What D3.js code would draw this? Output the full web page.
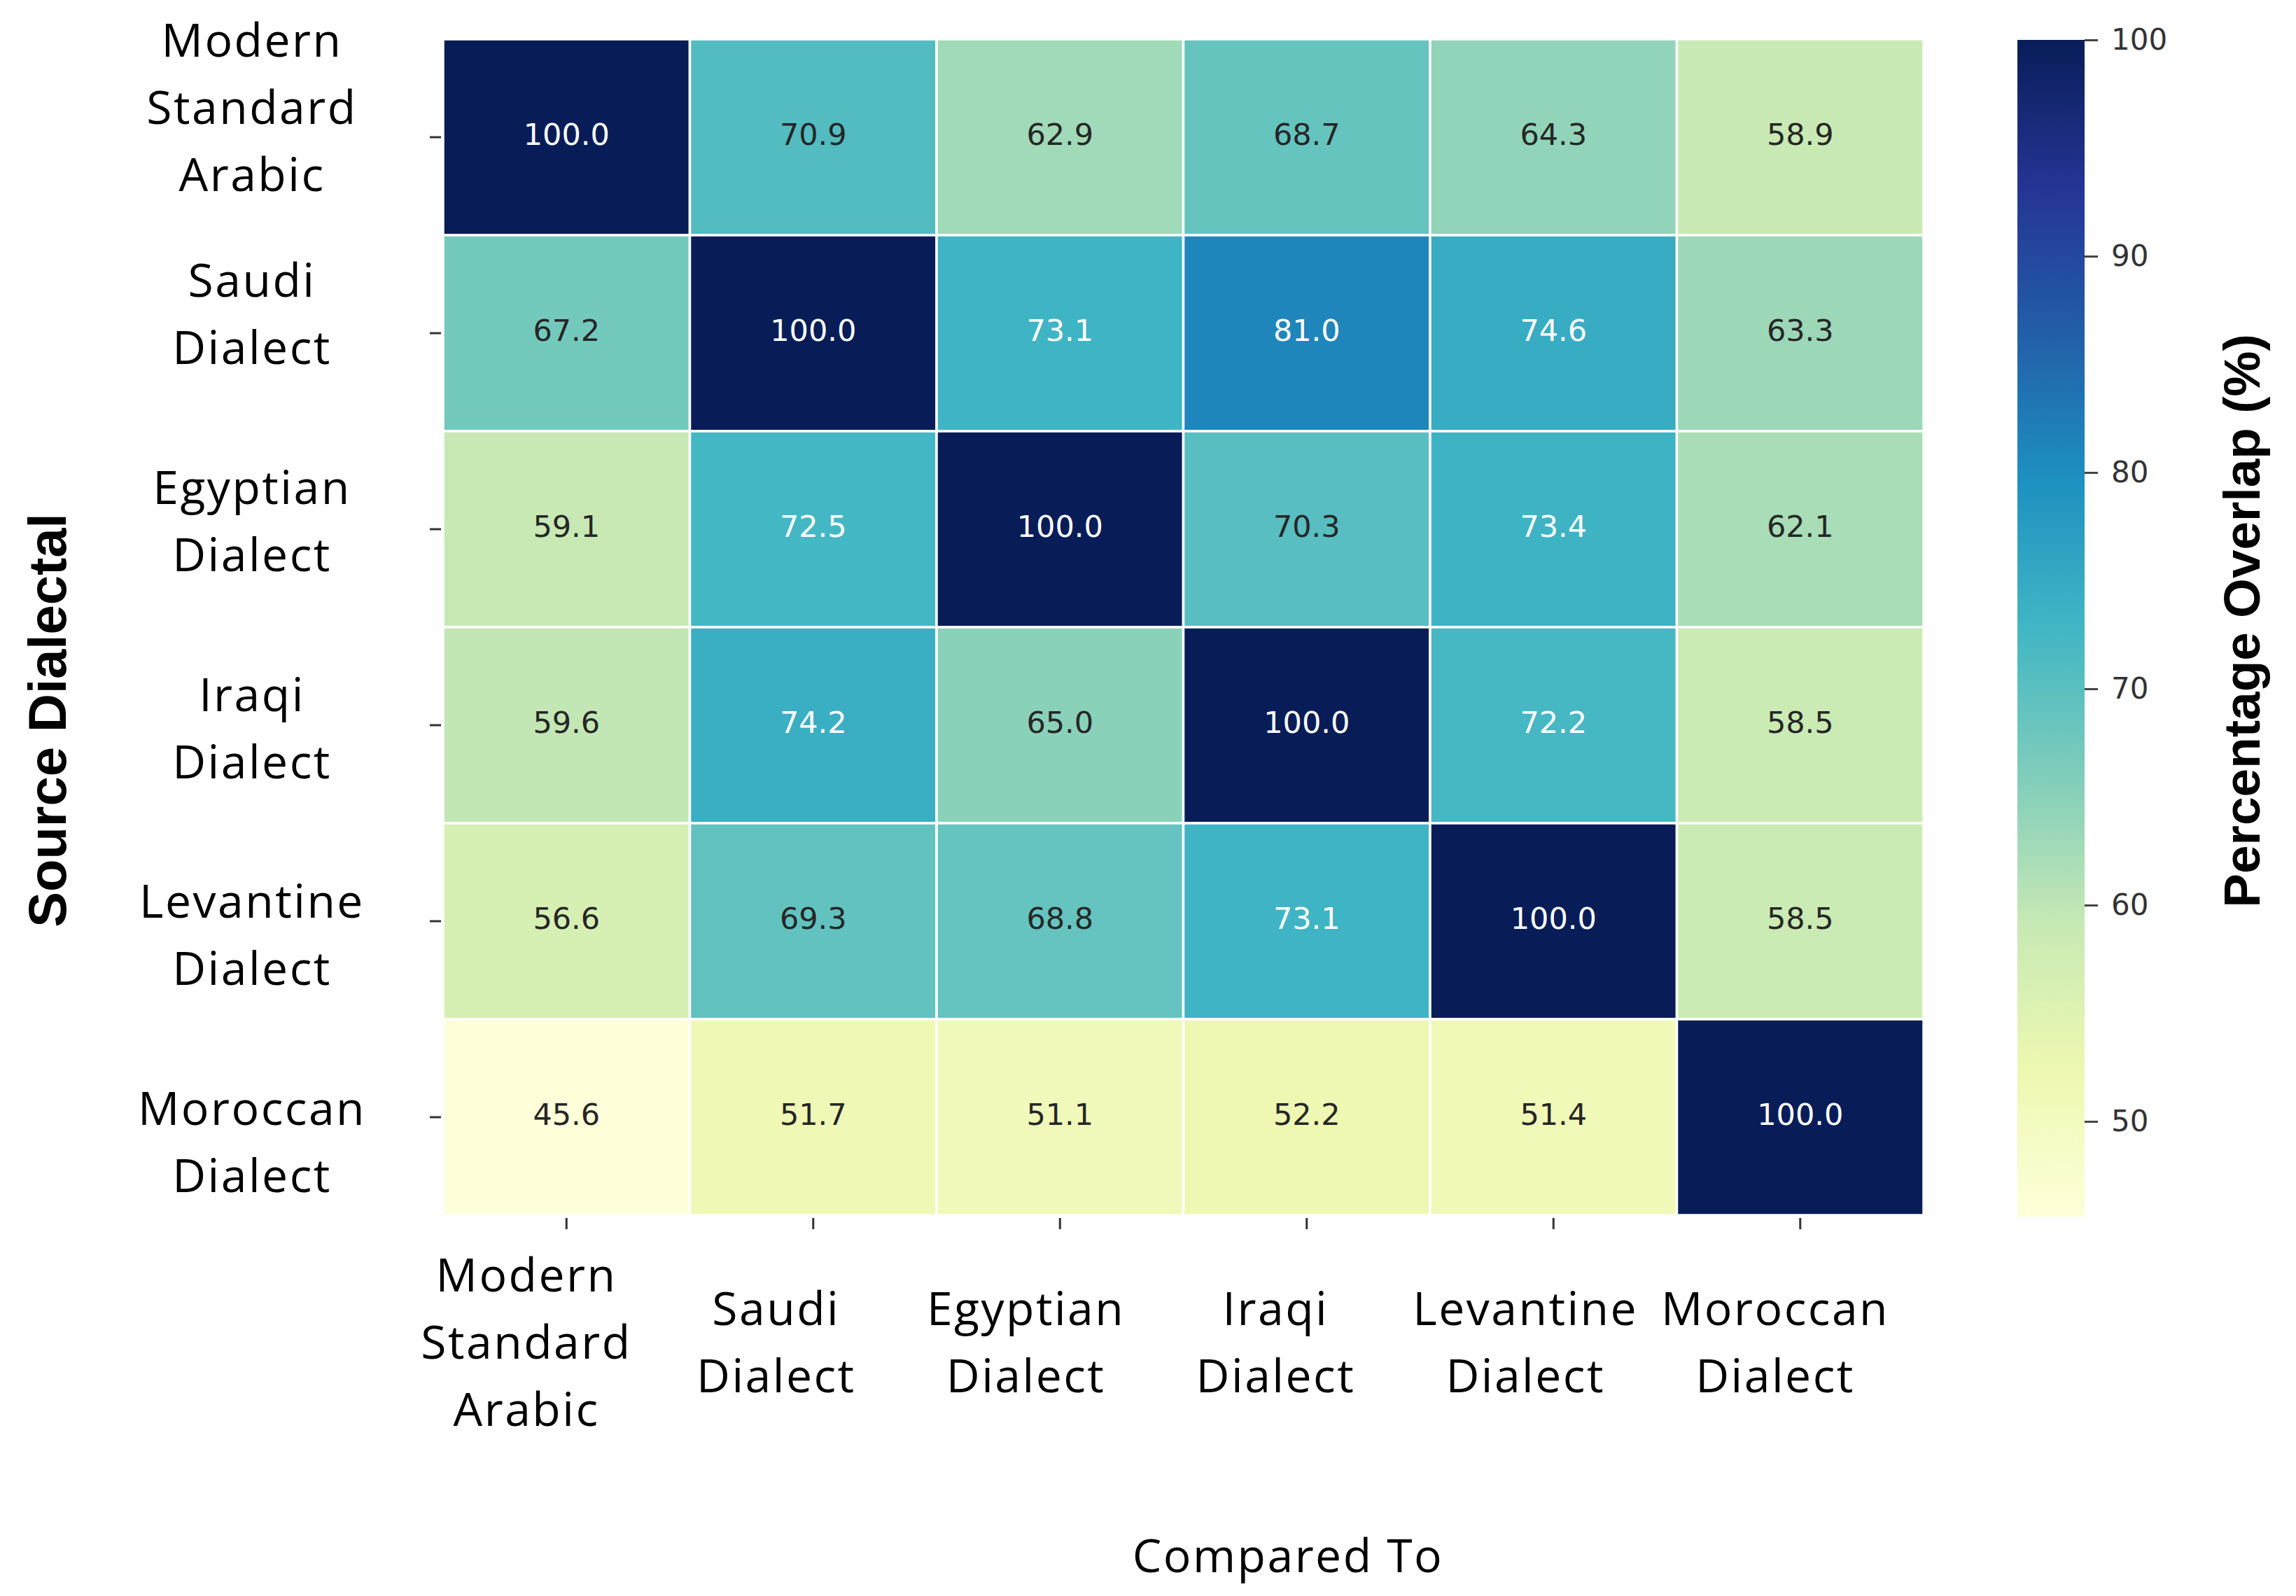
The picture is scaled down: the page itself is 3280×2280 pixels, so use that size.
<!DOCTYPE html>
<html>
<head>
<meta charset="utf-8">
<script src="https://cdn.jsdelivr.net/npm/d3@7"></script>
<style>
  body { margin: 0; background: #fff; }
  svg { display: block; }
</style>
</head>
<body>
<div class="container"></div>
<script>
// dialects, in row / column order
var dialects = ['Modern Standard Arabic', 'Saudi Dialect', 'Egyptian Dialect',
                'Iraqi Dialect', 'Levantine Dialect', 'Moroccan Dialect'];

// overlap %, rows = source dialect, columns = compared to
var overlap = [
    [100.0, 70.9, 62.9, 68.7, 64.3, 58.9],
    [67.2, 100.0, 73.1, 81.0, 74.6, 63.3],
    [59.1, 72.5, 100.0, 70.3, 73.4, 62.1],
    [59.6, 74.2, 65.0, 100.0, 72.2, 58.5],
    [56.6, 69.3, 68.8, 73.1, 100.0, 58.5],
    [45.6, 51.7, 51.1, 52.2, 51.4, 100.0]
];

var colorbarTicks = [50, 60, 70, 80, 90, 100];

// YlGnBu colorbrewer stops
var ylgnbu = ['#ffffd9', '#edf8b1', '#c7e9b4', '#7fcdbb', '#41b6c4',
              '#1d91c0', '#225ea8', '#253494', '#081d58'];

var width = 3280, height = 2280;
var labelFont = '"Open Sans", "Noto Sans", sans-serif';

var svg = d3.select('.container').append('svg')
    .attr('width', width).attr('height', height);

var flat = d3.merge(overlap);
var vmin = d3.min(flat), vmax = d3.max(flat);

var x = d3.scaleBand().domain(dialects).range([633, 2748]);
var y = d3.scaleBand().domain(dialects).range([56, 1736]);
// tick labels sit slightly off the ticks in the original
var xLab = d3.scalePoint().domain(dialects).range([752, 2536]);
var yLab = d3.scalePoint().domain(dialects).range([153.5, 1632]);

var color = d3.scaleLinear()
    .domain(ylgnbu.map(function (c, i) { return vmin + i * (vmax - vmin) / (ylgnbu.length - 1); }))
    .range(ylgnbu)
    .interpolate(d3.interpolateRgb);

function luminance(c) {
    var rgb = d3.rgb(c);
    var ch = [rgb.r, rgb.g, rgb.b].map(function (v) {
        v = v / 255;
        return v <= 0.03928 ? v / 12.92 : Math.pow((v + 0.055) / 1.055, 2.4);
    });
    return 0.2126 * ch[0] + 0.7152 * ch[1] + 0.0722 * ch[2];
}

var cells = [];
overlap.forEach(function (row, i) {
    row.forEach(function (v, j) {
        cells.push({ row: dialects[i], col: dialects[j], value: v });
    });
});

// heatmap cells
svg.append('g').selectAll('rect')
    .data(cells)
    .enter()
    .append('rect')
    .attr('x', function (d) { return x(d.col); })
    .attr('y', function (d) { return y(d.row); })
    .attr('width', x.bandwidth())
    .attr('height', y.bandwidth())
    .attr('fill', function (d) { return color(d.value); })
    .attr('stroke', '#fff')
    .attr('stroke-width', 3.5);

// annotations
svg.append('g').selectAll('text')
    .data(cells)
    .enter()
    .append('text')
    .attr('x', function (d) { return x(d.col) + x.bandwidth() / 2; })
    .attr('y', function (d) { return y(d.row) + y.bandwidth() / 2; })
    .attr('dy', '0.25em')
    .attr('text-anchor', 'middle')
    .style('font-family', '"DejaVu Sans", sans-serif')
    .style('font-size', '43px')
    .attr('fill', function (d) { return luminance(color(d.value)) > 0.408 ? '#262626' : '#ffffff'; })
    .text(function (d) { return d.value.toFixed(1); });

// tick marks
svg.append('g').selectAll('line')
    .data(dialects)
    .enter()
    .append('line')
    .attr('x1', 614).attr('x2', 630)
    .attr('y1', function (d) { return y(d) + y.bandwidth() / 2; })
    .attr('y2', function (d) { return y(d) + y.bandwidth() / 2; })
    .attr('stroke', '#333').attr('stroke-width', 3);

svg.append('g').selectAll('line')
    .data(dialects)
    .enter()
    .append('line')
    .attr('y1', 1740).attr('y2', 1756)
    .attr('x1', function (d) { return x(d) + x.bandwidth() / 2; })
    .attr('x2', function (d) { return x(d) + x.bandwidth() / 2; })
    .attr('stroke', '#333').attr('stroke-width', 3);

// multi line tick labels
var lineH = 96, capHalf = 23;

function wrapLabel(sel, cx, cy) {
    sel.each(function (d) {
        var words = d.split(' ');
        var t = d3.select(this)
            .attr('text-anchor', 'middle')
            .style('font-family', labelFont)
            .style('font-size', '66px')
            .style('letter-spacing', '2.5px')
            .attr('fill', '#000');
        words.forEach(function (w, k) {
            t.append('tspan')
                .attr('x', cx(d))
                .attr('y', cy(d) - (words.length - 1) * lineH / 2 + capHalf + k * lineH)
                .text(w);
        });
    });
}

svg.append('g').selectAll('text')
    .data(dialects)
    .enter()
    .append('text')
    .call(wrapLabel, function () { return 360; }, function (d) { return yLab(d); });

svg.append('g').selectAll('text')
    .data(dialects)
    .enter()
    .append('text')
    .call(wrapLabel, function (d) { return xLab(d); }, function () { return 1918; });

// axis titles
svg.append('text')
    .attr('x', 1840).attr('y', 2246)
    .attr('text-anchor', 'middle')
    .style('font-family', labelFont)
    .style('font-size', '66px')
    .style('letter-spacing', '2.5px')
    .text('Compared To');

svg.append('text')
    .attr('transform', 'translate(94,1029) rotate(-90)')
    .attr('text-anchor', 'middle')
    .style('font-family', '"Liberation Sans", Arial, sans-serif')
    .style('font-weight', 'bold')
    .style('font-size', '76px')
    .text('Source Dialectal');

// colorbar
var cbX = 2882, cbW = 96;
var cb = d3.scaleLinear().domain([vmin, vmax]).range([1738, 57]);

var grad = svg.append('defs').append('linearGradient')
    .attr('id', 'cbgrad')
    .attr('x1', 0).attr('y1', 1).attr('x2', 0).attr('y2', 0);
grad.selectAll('stop')
    .data(color.domain())
    .enter()
    .append('stop')
    .attr('offset', function (d) { return (d - vmin) / (vmax - vmin); })
    .attr('stop-color', function (d) { return color(d); });

svg.append('rect')
    .attr('x', cbX).attr('y', cb(vmax))
    .attr('width', cbW).attr('height', cb(vmin) - cb(vmax))
    .attr('fill', 'url(#cbgrad)');

var cbAxis = svg.append('g')
    .attr('transform', 'translate(' + (cbX + cbW) + ',0)')
    .call(d3.axisRight(cb).tickValues(colorbarTicks).tickSize(19).tickPadding(19));
cbAxis.select('.domain').remove();
cbAxis.selectAll('line').attr('stroke', '#444').attr('stroke-width', 3);
cbAxis.selectAll('text')
    .style('font-family', '"DejaVu Sans", sans-serif')
    .style('font-size', '42px')
    .attr('fill', '#333');

svg.append('text')
    .attr('transform', 'translate(3228,887) rotate(-90)')
    .attr('text-anchor', 'middle')
    .style('font-family', '"Liberation Sans", Arial, sans-serif')
    .style('font-weight', 'bold')
    .style('font-size', '73px')
    .text('Percentage Overlap (%)');
</script>
</body>
</html>
